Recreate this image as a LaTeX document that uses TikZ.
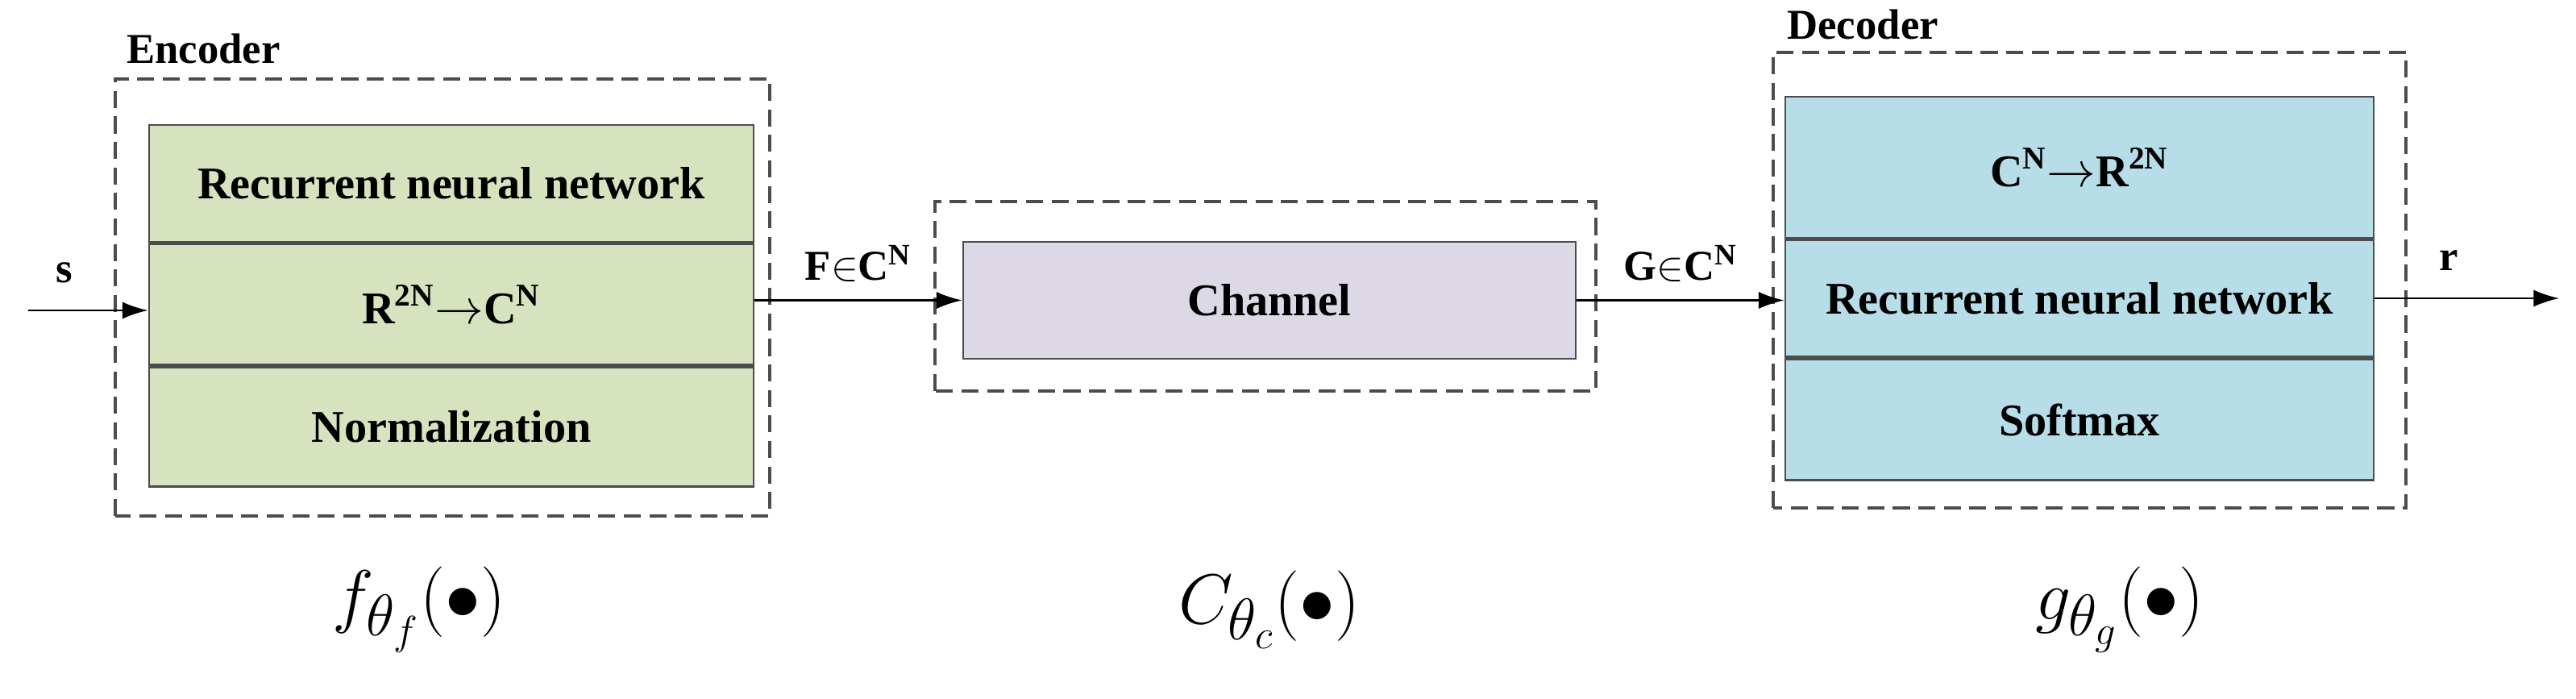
\documentclass[tikz,border=0pt]{standalone}
\usepackage{fontspec}
\setmainfont{Liberation Serif}
\usetikzlibrary{positioning,arrows.meta}
\definecolor{encgreen}{HTML}{D7E3BF}
\definecolor{chanlav}{HTML}{DDD8E6}
\definecolor{decblue}{HTML}{B7DEE8}
\tikzset{
  frame/.style={draw=black!70,dashed,line width=1pt,dash pattern=on 6pt off 3pt},
  block/.style={draw=black!70,line width=0.8pt,minimum width=7.5cm,font=\fontsize{16}{19}\selectfont\bfseries},
  link/.style={-{Latex[length=9pt,width=6pt]},line width=0.7pt},
  lab/.style={font=\fontsize{15}{18}\selectfont\bfseries},
  func/.style={font=\fontsize{28}{32}\selectfont}
}
\begin{document}
\begin{tikzpicture}[x=1cm,y=1cm]
  \useasboundingbox (0,0) rectangle (31.96,8.66);
  % encoder
  \draw[frame] (1.43,2.26) rectangle (9.55,7.68);
  \node[lab,anchor=west] (enclab) at (1.45,8.06) {Encoder};
  \node[block,fill=encgreen,minimum height=1.45cm] (rnn) at (5.6,6.385) {Recurrent neural network};
  \node[block,fill=encgreen,minimum height=1.5cm,below=0pt of rnn] (r2c) {R$^{\mathbf{2N}}$$\rightarrow$C$^{\mathbf{N}}$};
  \node[block,fill=encgreen,minimum height=1.48cm,below=0pt of r2c] (norm) {Normalization};
  % channel
  \draw[frame] (11.6,3.81) rectangle (19.8,6.16);
  \node[block,fill=chanlav,minimum width=7.6cm,minimum height=1.45cm] (chan) at (15.75,4.935) {Channel};
  % decoder
  \draw[frame] (22.0,2.36) rectangle (29.85,8.01);
  \node[lab,anchor=west] (declab) at (22.05,8.36) {Decoder};
  \node[block,fill=decblue,minimum width=7.3cm,minimum height=1.75cm] (c2r) at (25.8,6.585) {C$^{\mathbf{N}}$$\rightarrow$R$^{\mathbf{2N}}$};
  \node[block,fill=decblue,minimum width=7.3cm,minimum height=1.45cm,below=0pt of c2r] (drnn) {Recurrent neural network};
  \node[block,fill=decblue,minimum width=7.3cm,minimum height=1.5cm,below=0pt of drnn] (soft) {Softmax};
  % connectors
  \coordinate (in) at (0.35,4.81);
  \coordinate (out) at (31.75,4.96);
  \draw[link] (in) -- (in -| r2c.west) node[lab,pos=0.3,above=6pt] {s};
  \draw[link] (r2c.east |- chan.west) -- (chan.west) node[lab,midway,above=3pt] {F$\in$C$^{\mathbf{N}}$};
  \draw[link] (chan.east) -- (chan.east -| drnn.west) node[lab,midway,above=3pt] {G$\in$C$^{\mathbf{N}}$};
  \draw[link] (drnn.east |- out) -- (out) node[lab,pos=0.4,above=6pt] {r};
  % functions
  \node[func] (ff) at (5.2,1.1) {$f_{\theta_f}(\bullet)$};
  \node[func] (cf) at (15.75,1.1) {$C_{\theta_c}(\bullet)$};
  \node[func] (gf) at (26.3,1.1) {$g_{\theta_g}(\bullet)$};
\end{tikzpicture}
\end{document}
